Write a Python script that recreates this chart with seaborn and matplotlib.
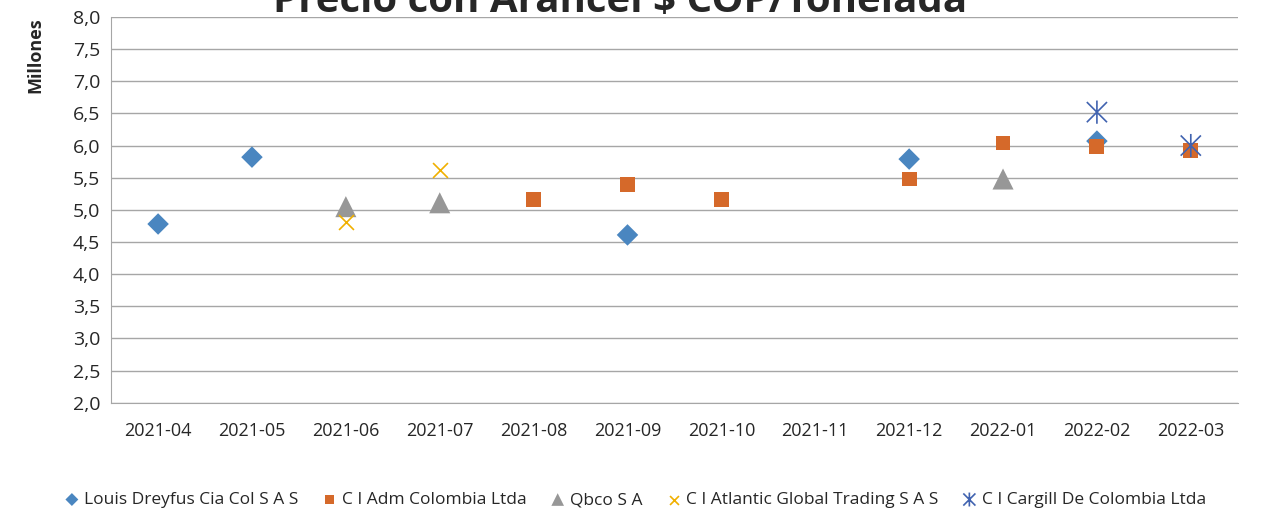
import numpy as np
import pandas as pd
import matplotlib
matplotlib.use("Agg")
import matplotlib.pyplot as plt
from matplotlib.path import Path
import seaborn as sns

months = ["2021-04", "2021-05", "2021-06", "2021-07", "2021-08", "2021-09",
          "2021-10", "2021-11", "2021-12", "2022-01", "2022-02", "2022-03"]
dreyfus = [4.78, 5.82, None, None, None, 4.61, None, None, 5.79, None, 6.07, None]
adm = [None, None, None, None, 5.16, 5.39, 5.16, None, 5.48, 6.04, 5.98, 5.93]
qbco = [None, None, 5.05, 5.11, None, None, None, None, None, 5.48, None, None]
atlantic = [None, None, 4.81, 5.62, None, None, None, None, None, None, None, None]
cargill = [None, None, None, None, None, None, None, None, None, None, 6.52, 6.00]

names = ["Louis Dreyfus Cia Col S A S", "C I Adm Colombia Ltda", "Qbco S A",
         "C I Atlantic Global Trading S A S", "C I Cargill De Colombia Ltda"]
values = [dreyfus, adm, qbco, atlantic, cargill]
colors = ["#4a86c0", "#d5692a", "#979797", "#f0b000", "#4163b0"]

# excel style star: an x with a vertical bar through it
star = Path([(-1, -1), (1, 1), (-1, 1), (1, -1), (0, -1.15), (0, 1.15)],
            [Path.MOVETO, Path.LINETO, Path.MOVETO, Path.LINETO, Path.MOVETO, Path.LINETO])
markers = ["D", "s", "^", "x", star]
sizes = [120, 115, 230, 115, 280]

sns.set_style("white")
plt.rcParams["font.family"] = ["Open Sans", "DejaVu Sans"]

fig, ax = plt.subplots(figsize=(12.63, 5.15), dpi=100)
fig.subplots_adjust(left=0.088, right=0.98, top=0.967, bottom=0.218)

for name, vals, col, mk, sz in zip(names, values, colors, markers, sizes):
    df = pd.DataFrame({"mes": range(len(months)), "precio": vals}).dropna()
    if mk is star:
        sns.scatterplot(data=df, x="mes", y="precio", ax=ax, marker=mk, s=sz,
                        color=col, edgecolor=col, facecolor="none",
                        linewidth=1.2, label=name, zorder=3)
    elif mk == "x":
        sns.scatterplot(data=df, x="mes", y="precio", ax=ax, marker=mk, s=sz,
                        color=col, linewidth=1.2, label=name, zorder=3)
    else:
        sns.scatterplot(data=df, x="mes", y="precio", ax=ax, marker=mk, s=sz,
                        color=col, edgecolor="none", label=name, zorder=3)

ax.set_xlim(-0.5, len(months) - 0.5)
ax.set_ylim(2.0, 8.0)
ax.set_xticks(range(len(months)))
ax.set_xticklabels(months, fontsize=13)
yt = np.arange(2.0, 8.01, 0.5)
ax.set_yticks(yt)
ax.set_yticklabels([f"{t:.1f}".replace(".", ",") for t in yt], fontsize=14)
ax.tick_params(axis="x", length=0, pad=14)
ax.tick_params(axis="y", length=0, pad=8)
ax.grid(axis="y", color="#a6a6a6", linewidth=1)
ax.set_axisbelow(True)
for s in ["top", "right"]:
    ax.spines[s].set_visible(False)
for s in ["left", "bottom"]:
    ax.spines[s].set_color("#a6a6a6")
ax.set_xlabel("")
ax.set_ylabel("")
fig.text(35 / 1263, 1 - 55 / 515, "Millones", rotation=90, ha="center",
         va="center", fontsize=13, fontweight="bold")

fig.text(0.491, 1 - 12 / 515, "Precio con Arancel $ COP/Tonelada", ha="center",
         va="baseline", fontsize=29, fontweight="bold")

handles, labels = ax.get_legend_handles_labels()
ax.get_legend().remove()
fig.legend(handles, labels, loc="center", bbox_to_anchor=(0.503, 15 / 515), ncol=5,
           frameon=False, fontsize=12.5, handlelength=0.8, handletextpad=0.3,
           columnspacing=1.4, markerscale=0.6)

fig.savefig("out.png", dpi=100)
